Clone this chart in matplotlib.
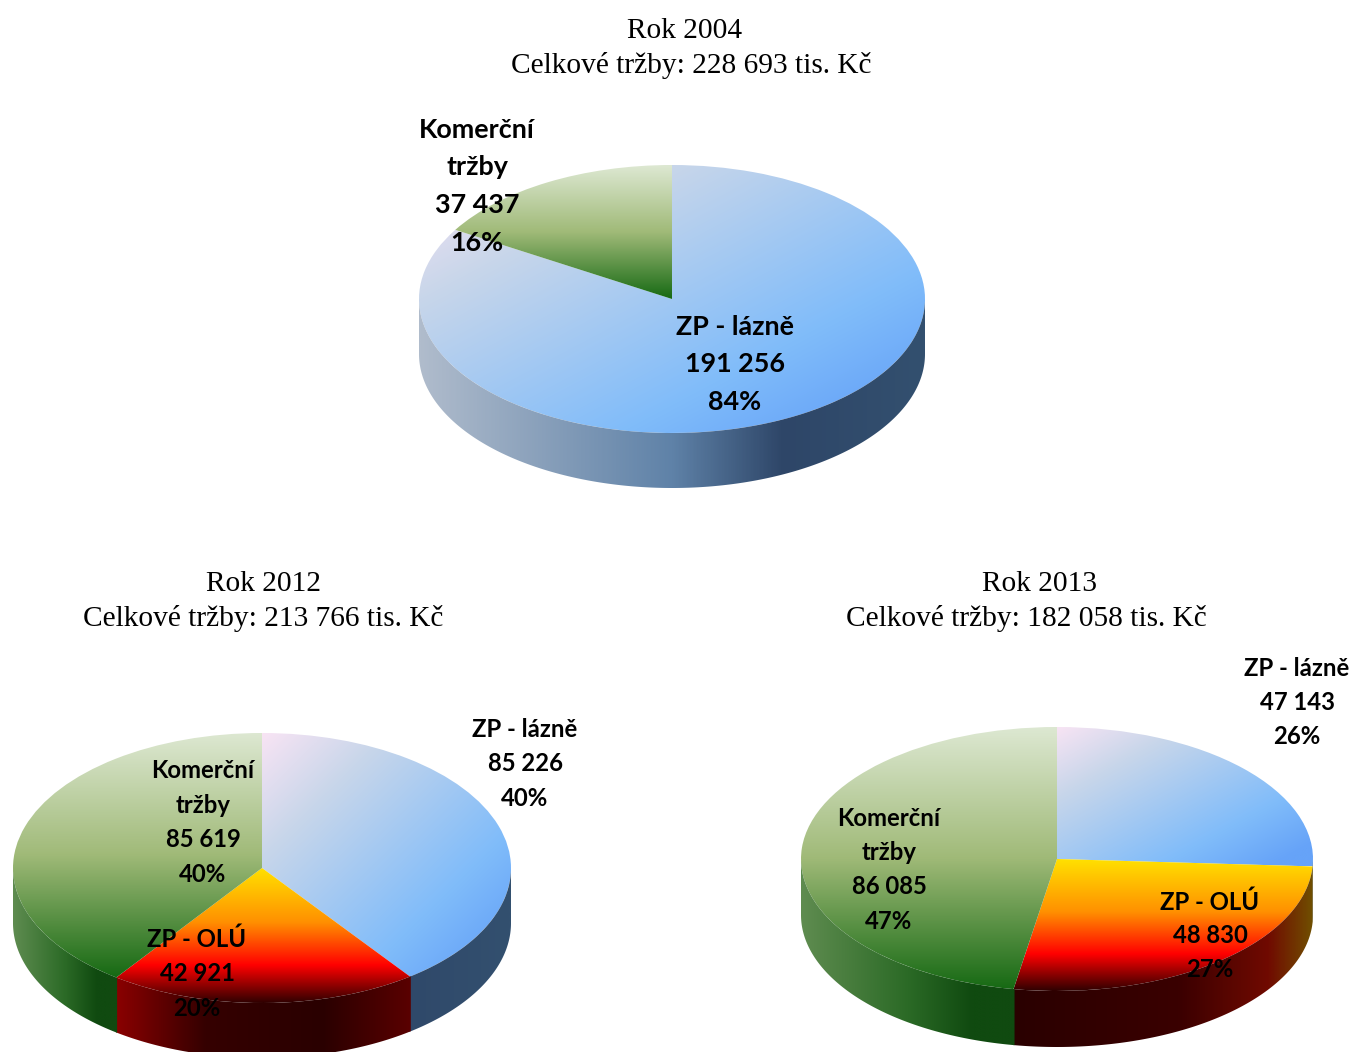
#!/usr/bin/env python

import numpy as np
import matplotlib
matplotlib.use("Agg")
import matplotlib.pyplot as plt
from matplotlib.colors import LinearSegmentedColormap as LSC

W, H = 1353, 1052

# data
years = ["2004", "2012", "2013"]
names_2004 = ["ZP - lázně", "Komerční\ntržby"]
names_rest = ["ZP - lázně", "ZP - OLÚ", "Komerční\ntržby"]
values_2004 = [191256, 37437]
values_2012 = [85226, 42921, 85619]
values_2013 = [47143, 48830, 86085]

# gradients
blue_top = LSC.from_list("bt", [(0, "#f8e4f4"), (.25, "#c8d6ea"), (.7, "#80bcfa"), (.92, "#66a3f8"), (1, "#66a3f8")])
green_top = LSC.from_list("gt", [(0, "#dde8d2"), (.5, "#a0ba78"), (1, "#176a14")])
red_top = LSC.from_list("rt", [(0, "#ffe000"), (.4, "#ff9000"), (.72, "#ff0000"), (1, "#300000")])
blue_wall = LSC.from_list("bw", [(0, "#b0bccc"), (.5, "#5f82a8"), (.72, "#2e4668"), (1, "#33506f")])
green_wall = LSC.from_list("gw", [(0, "#5f8c50"), (.5, "#2b6a26"), (.8, "#104a10"), (1, "#104a10")])
red_wall_2012 = LSC.from_list("rw1", [(0, "#8a0000"), (.3, "#350000"), (.7, "#2a0000"), (1, "#5a0000")])
red_wall_2013 = LSC.from_list("rw2", [(0, "#2a0000"), (.55, "#3a0000"), (.85, "#700a00"), (1, "#705000")])

fig = plt.figure(figsize=(W / 100, H / 100), dpi=100)


def gradient(ax, cmap, box, mode, clip):
    x0, x1, y0, y1 = box
    u, v = np.meshgrid(np.linspace(0, 1, 400), np.linspace(0, 1, 400))
    if mode == "diag":
        t = (u + v) / 2
    elif mode == "vert":
        t = v
    else:
        t = u
    # v runs from the top of the box down
    im = ax.imshow(cmap(t), extent=(x0, x1, y0, y1), origin="upper", aspect="auto",
                   interpolation="bilinear", zorder=clip.get_zorder() + 1)
    im.set_clip_path(clip)


def draw_pie(values, cx, cy, rx, ry, depth, tops, modes, walls):
    ax = fig.add_axes([(cx - rx) / W, 1 - (cy + ry + depth) / H, 2 * rx / W, (2 * ry + depth) / H])
    d = depth / ry
    wedges, _ = ax.pie(values, startangle=90, counterclock=False, radius=1, center=(0, 0),
                       colors=["none"] * len(values), wedgeprops={"linewidth": 0})
    edges = np.cumsum([0] + list(values)) / sum(values) * 2 * np.pi
    for i, w in enumerate(wedges):
        t = np.linspace(edges[i], edges[i + 1], 300)
        xs = np.r_[0, np.sin(t)]
        ys = np.r_[0, np.cos(t)]
        gradient(ax, tops[i], (xs.min(), xs.max(), ys.min(), ys.max()), modes[i], w)

        # side wall, only the front half of the rim shows
        lo, hi = max(edges[i], np.pi / 2), min(edges[i + 1], 3 * np.pi / 2)
        if walls[i] is None or lo >= hi:
            continue
        # small overlap so no white seam between walls
        t = np.linspace(lo - .004, hi + .004, 300)
        wx, wy = np.sin(t), np.cos(t)
        wall = ax.fill(np.r_[wx, wx[::-1]], np.r_[wy, (wy - d)[::-1]], facecolor="none", linewidth=0)[0]
        if walls[i] is blue_wall:
            box = (-1, 1, -1 - d, 1)
        else:
            box = (wx.min(), wx.max(), -1 - d, 1)
        gradient(ax, walls[i], box, "horiz", wall)
    ax.set_aspect("auto")
    ax.set_xlim(-1, 1)
    ax.set_ylim(-1 - d, 1)
    ax.axis("off")


draw_pie(values_2004, 672, 299, 253, 134, 55,
         [blue_top, green_top], ["diag", "vert"], [blue_wall, green_wall])
draw_pie(values_2012, 262, 868, 249, 135, 55,
         [blue_top, red_top, green_top], ["diag", "vert", "vert"], [blue_wall, red_wall_2012, green_wall])
draw_pie(values_2013, 1057, 859, 256, 132, 56,
         [blue_top, red_top, green_top], ["diag", "vert", "vert"], [blue_wall, red_wall_2013, green_wall])

# overlay for text, in pixels
top = fig.add_axes([0, 0, 1, 1], zorder=10)
top.set_xlim(0, W)
top.set_ylim(H, 0)
top.axis("off")


def title(year, values, x1, y1, x2, y2):
    total = f"{sum(values):,}".replace(",", " ")
    top.text(x1, y1, f"Rok {year}", ha="center", va="baseline", family="Liberation Serif", fontsize=21.2)
    top.text(x2, y2, f"Celkové tržby: {total} tis. Kč", ha="center", va="baseline",
             family="Liberation Serif", fontsize=21.2)


def label(name, value, total, x, ys, size):
    lines = name.split("\n") + [f"{value:,}".replace(",", " "), f"{round(100 * value / total)}%"]
    for line, y in zip(lines, ys):
        top.text(x, y, line, ha="center", va="baseline", family="Lato", weight="bold", fontsize=size)


title(years[0], values_2004, 685, 38, 691, 73)
title(years[1], values_2012, 264, 591, 263, 626)
title(years[2], values_2013, 1040, 591, 1026, 626)

label(names_2004[0], values_2004[0], sum(values_2004), 735, [335, 372, 410], 19.4)
label(names_2004[1], values_2004[1], sum(values_2004), 477, [138, 175, 213, 251], 19.4)

label(names_rest[0], values_2012[0], sum(values_2012), 525, [737, 771, 806], 17.2)
label(names_rest[1], values_2012[1], sum(values_2012), 197, [947, 981, 1016], 17.2)
label(names_rest[2], values_2012[2], sum(values_2012), 203, [778, 813, 847, 882], 17.2)

label(names_rest[0], values_2013[0], sum(values_2013), 1297, [676, 710, 744], 17.2)
label(names_rest[1], values_2013[1], sum(values_2013), 1210, [910, 943, 977], 17.2)
label(names_rest[2], values_2013[2], sum(values_2013), 889, [826, 860, 894, 929], 17.2)

fig.savefig("out.png", dpi=100)
